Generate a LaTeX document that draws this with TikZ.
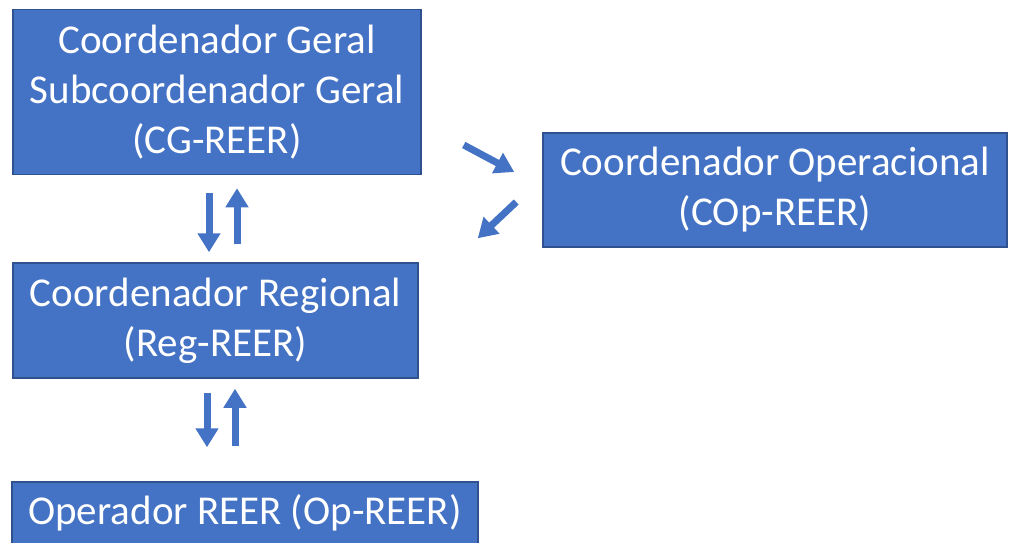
\documentclass[tikz,border=0pt]{standalone}
\usepackage{fontspec}
\setmainfont{Carlito}
\usetikzlibrary{arrows.meta}
\definecolor{azul}{HTML}{4472C4}
\definecolor{azulborda}{HTML}{2F528F}
\tikzstyle{cargo} = [rectangle, draw=azulborda, line width=1.5pt, fill=azul, text=white, align=center, inner sep=0, font=\fontsize{41}{50}\selectfont]
\tikzstyle{seta} = [line width=7pt, draw=azul, -{Triangle[width=22pt, length=19pt]}]

\begin{document}
\begin{tikzpicture}[x=1pt, y=-1pt]
	\fill[white] (0,0) rectangle (1013,543);
	\useasboundingbox (0,0) rectangle (1013,543);
	\node[cargo, minimum width=408pt, minimum height=165pt] (cg) at (217, 92) {Coordenador Geral\\Subcoordenador Geral\\(CG-REER)};
	\node[cargo, minimum width=464pt, minimum height=114pt] (cop) at (775, 190) {Coordenador Operacional\\(COp-REER)};
	\node[cargo, minimum width=405pt, minimum height=115pt] (reg) at (215.5, 320.5) {Coordenador Regional\\(Reg-REER)};
	\node[cargo, minimum width=466pt, minimum height=62pt] (op) at (245, 513) {Operador REER (Op-REER)};
	% CG <-> Reg
	\draw[seta, shorten <=18pt, shorten >=10pt] ([xshift=-8pt]cg.south) -- ([xshift=-8pt]cg.south |- reg.north);
	\draw[seta, shorten <=18pt, shorten >=13pt] ([xshift=20pt]cg.south |- reg.north) -- ([xshift=20pt]cg.south);
	% Reg <-> Op
	\draw[seta, shorten <=14pt, shorten >=34pt] ([xshift=-8.5pt]reg.south) -- ([xshift=-8.5pt]reg.south |- op.north);
	\draw[seta, shorten <=35pt, shorten >=10pt] ([xshift=19.5pt]reg.south |- op.north) -- ([xshift=19.5pt]reg.south);
	% CG <-> COp
	\draw[seta] ([shift={(42,53)}]cg.east) -- ([shift={(-28,-18)}]cop.west);
	\draw[seta] ([shift={(-26,12)}]cop.west) -- ([shift={(56,63)}]cg.south east);
\end{tikzpicture}
\end{document}
